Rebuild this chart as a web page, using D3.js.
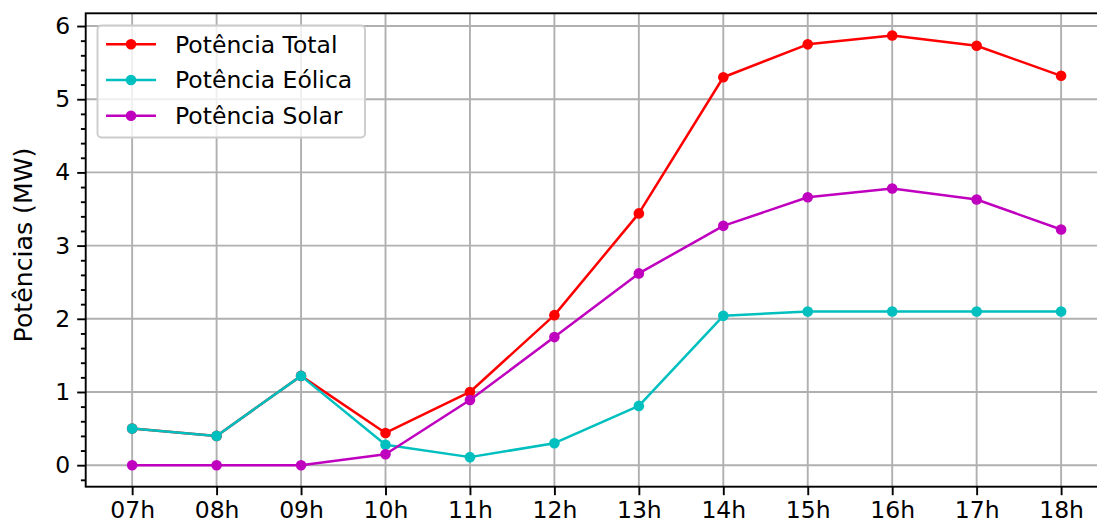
<!DOCTYPE html>
<html>
<head>
<meta charset="utf-8">
<script src="https://cdn.jsdelivr.net/npm/d3@7"></script>
<style>
  html, body { margin: 0; padding: 0; background: #fff; }
  svg { display: block; font-family: "DejaVu Sans", sans-serif; }
</style>
</head>
<body>
<svg id="chart" width="1097" height="530"></svg>
<script>
// Hourly power generation (MW)
const hours = ["07h", "08h", "09h", "10h", "11h", "12h", "13h", "14h", "15h", "16h", "17h", "18h"];
const potTotal = [0.50, 0.40, 1.22, 0.44, 1.00, 2.05, 3.44, 5.30, 5.75, 5.87, 5.73, 5.32];
const potEolica = [0.50, 0.40, 1.22, 0.28, 0.11, 0.30, 0.81, 2.04, 2.10, 2.10, 2.10, 2.10];
const potSolar = [0.00, 0.00, 0.00, 0.15, 0.89, 1.75, 2.62, 3.27, 3.66, 3.78, 3.63, 3.22];
const yTicks = [0, 1, 2, 3, 4, 5, 6];
const seriesNames = ["Potência Total", "Potência Eólica", "Potência Solar"];

const series = [
  { name: seriesNames[0], values: potTotal, color: "#ff0000" },
  { name: seriesNames[1], values: potEolica, color: "#00bfbf" },
  { name: seriesNames[2], values: potSolar, color: "#bf00bf" }
];

const svg = d3.select("#chart");
const plotLeft = 85.7, plotTop = 13.3, plotBottom = 486.7;
const step = 84.45;
const plotRight = plotLeft + 12.1 * step;

const x = d3.scaleLinear().domain([-0.55, hours.length - 1 + 0.55]).range([plotLeft, plotRight]);
const y = d3.scaleLinear().domain([-0.294, 6.174]).range([plotBottom, plotTop]);

const gridColor = "#b0b0b0";
const fontSize = 23.5;

// grid
const grid = svg.append("g");
grid.selectAll("line.gx").data(hours).join("line")
  .attr("class", "gx")
  .attr("x1", (d, i) => x(i)).attr("x2", (d, i) => x(i))
  .attr("y1", plotTop).attr("y2", plotBottom)
  .attr("stroke", gridColor).attr("stroke-width", 1.9);
grid.selectAll("line.gy").data(yTicks).join("line")
  .attr("class", "gy")
  .attr("x1", plotLeft).attr("x2", plotRight)
  .attr("y1", d => y(d)).attr("y2", d => y(d))
  .attr("stroke", gridColor).attr("stroke-width", 1.9);

// series lines and markers
const line = d3.line().x((d, i) => x(i)).y(d => y(d));
series.forEach(s => {
  const g = svg.append("g");
  g.append("path").datum(s.values)
    .attr("d", line).attr("fill", "none")
    .attr("stroke", s.color).attr("stroke-width", 2.5)
    .attr("stroke-linejoin", "round");
  g.selectAll("circle").data(s.values).join("circle")
    .attr("cx", (d, i) => x(i)).attr("cy", d => y(d))
    .attr("r", 5.3).attr("fill", s.color);
});

// axes
const xAxis = d3.axisBottom(x)
  .tickValues(d3.range(hours.length))
  .tickFormat(i => hours[i])
  .tickSize(8.5).tickPadding(6);
const gx = svg.append("g").attr("transform", `translate(0,${plotBottom})`).call(xAxis);

const yAxis = d3.axisLeft(y).tickValues(yTicks).tickFormat(d3.format("d")).tickSize(8.5).tickPadding(7);
const gy = svg.append("g").attr("transform", `translate(${plotLeft},0)`).call(yAxis);

const minorTicks = d3.range(-0.2, 6.17, 0.2).filter(v => Math.abs(v - Math.round(v)) > 1e-6);
const yMinor = d3.axisLeft(y).tickValues(minorTicks).tickFormat("").tickSize(4.8);
const gym = svg.append("g").attr("transform", `translate(${plotLeft},0)`).call(yMinor);

[gx, gy, gym].forEach(g => {
  g.selectAll(".domain").remove();
  g.selectAll(".tick line").attr("stroke", "#000").attr("stroke-width", 1.9);
  g.selectAll(".tick text").attr("fill", "#000")
    .attr("font-family", "DejaVu Sans").attr("font-size", fontSize);
});

// frame
svg.append("rect")
  .attr("x", plotLeft).attr("y", plotTop)
  .attr("width", plotRight - plotLeft).attr("height", plotBottom - plotTop)
  .attr("fill", "none").attr("stroke", "#000").attr("stroke-width", 1.9);

// y label
svg.append("text")
  .attr("transform", `translate(32,245) rotate(-90)`)
  .attr("text-anchor", "middle")
  .attr("font-size", 25.2)
  .text("Potências (MW)");

// legend
const legend = svg.append("g");
legend.append("rect")
  .attr("x", 97.5).attr("y", 25.5).attr("width", 267.5).attr("height", 112)
  .attr("rx", 4).attr("fill", "#fff").attr("fill-opacity", 0.8)
  .attr("stroke", "#cccccc").attr("stroke-width", 1.9);
series.forEach((s, i) => {
  const ly = 44.3 + i * 35.7;
  legend.append("line")
    .attr("x1", 106).attr("x2", 156).attr("y1", ly).attr("y2", ly)
    .attr("stroke", s.color).attr("stroke-width", 2.5);
  legend.append("circle").attr("cx", 131).attr("cy", ly).attr("r", 5.3).attr("fill", s.color);
  legend.append("text")
    .attr("x", 175).attr("y", ly).attr("dy", "0.36em")
    .attr("font-size", fontSize)
    .text(s.name);
});
</script>
</body>
</html>
